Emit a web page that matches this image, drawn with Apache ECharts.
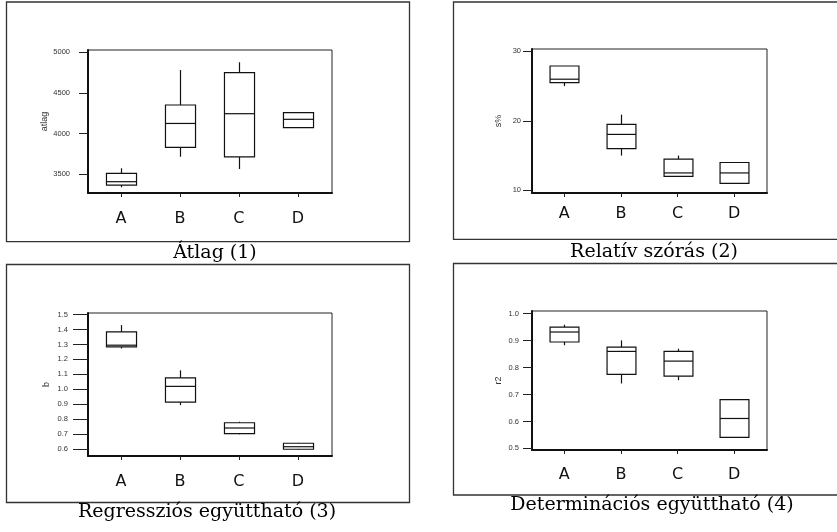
<!DOCTYPE html>
<html>
<head>
<meta charset="utf-8">
<title>Boxplots</title>
<script src="https://cdn.jsdelivr.net/npm/echarts@6/dist/echarts.min.js"></script>
<style>
  html, body { margin: 0; padding: 0; background: #ffffff; }
  #chart { width: 837px; height: 532px; }
</style>
</head>
<body>
<div id="chart"></div>
<script>
// Groups shown on every panel
const categories = ['A', 'B', 'C', 'D'];

// Box summaries per group: [low whisker, Q1, median, Q3, high whisker]
const atlagValues = [
  [3340, 3368, 3409, 3512, 3574],
  [3716, 3832, 4125, 4352, 4782],
  [3565, 3713, 4245, 4749, 4877],
  [4073, 4073, 4176, 4257, 4262]
];
const szorasValues = [
  [25.0, 25.5, 26.0, 27.9, 27.9],
  [15.0, 16.0, 18.05, 19.5, 20.9],
  [12.0, 12.0, 12.5, 14.5, 15.0],
  [11.0, 11.0, 12.5, 14.0, 14.0]
];
const regresszioValues = [
  [1.273, 1.284, 1.295, 1.384, 1.429],
  [0.895, 0.915, 1.02, 1.077, 1.127],
  [0.70, 0.704, 0.742, 0.777, 0.784],
  [0.595, 0.60, 0.617, 0.64, 0.643]
];
const determinacioValues = [
  [0.883, 0.895, 0.932, 0.950, 0.959],
  [0.741, 0.775, 0.860, 0.876, 0.901],
  [0.753, 0.768, 0.824, 0.860, 0.870],
  [0.541, 0.541, 0.611, 0.681, 0.681]
];

// Y tick labels per panel
const atlagTicks = [3500, 4000, 4500, 5000];
const szorasTicks = [10, 20, 30];
const regresszioTicks = [0.6, 0.7, 0.8, 0.9, 1.0, 1.1, 1.2, 1.3, 1.4, 1.5];
const determinacioTicks = [0.5, 0.6, 0.7, 0.8, 0.9, 1.0];

// Axis names and panel captions
const axisNames = ['atlag', 's%', 'b', 'r2'];
const captions = ['Átlag (1)', 'Relatív szórás (2)', 'Regressziós együttható (3)', 'Determinációs együttható (4)'];

const catPositions = categories.map((c, i) => i + 1);

function toSeriesData(values) {
  return values.map((v, i) => [i + 1].concat(v));
}

function renderBox(params, api) {
  const x = api.value(0);
  const lo = api.coord([x, api.value(1)]);
  const q1 = api.coord([x, api.value(2)]);
  const med = api.coord([x, api.value(3)]);
  const q3 = api.coord([x, api.value(4)]);
  const hi = api.coord([x, api.value(5)]);
  const half = api.size([0.51, 0])[0] / 2;
  const cx = Math.round(q1[0]) + 0.5;
  const stroke = { stroke: '#111', lineWidth: 1.2, fill: null };
  return {
    type: 'group',
    children: [
      { type: 'line', shape: { x1: cx, y1: hi[1], x2: cx, y2: q3[1] }, style: stroke },
      { type: 'line', shape: { x1: cx, y1: q1[1], x2: cx, y2: lo[1] }, style: stroke },
      { type: 'rect', shape: { x: cx - half, y: q3[1], width: half * 2, height: q1[1] - q3[1] },
        style: { stroke: '#111', lineWidth: 1.2, fill: '#fff' } },
      { type: 'line', shape: { x1: cx - half, y1: med[1], x2: cx + half, y2: med[1] }, style: stroke }
    ]
  };
}

// Panel layout: plot rectangles and axis settings
const panels = [
  { grid: { left: 88, top: 50, width: 244, height: 143 }, xMin: 0.44, xMax: 4.58,
    yMin: 3270, yMax: 5028, ticks: atlagTicks, dec: 0, tickLen: 9, labelMargin: 18,
    nameGap: 37, catMargin: 18, values: atlagValues },
  { grid: { left: 532, top: 49, width: 235, height: 144 }, xMin: 0.43, xMax: 4.58,
    yMin: 9.61, yMax: 30.35, ticks: szorasTicks, dec: 0, tickLen: 9, labelMargin: 11,
    nameGap: 29, catMargin: 13, values: szorasValues },
  { grid: { left: 88, top: 313, width: 244, height: 143 }, xMin: 0.44, xMax: 4.58,
    yMin: 0.555, yMax: 1.51, ticks: regresszioTicks, dec: 1, tickLen: 15, labelMargin: 20,
    nameGap: 37, catMargin: 18, values: regresszioValues },
  { grid: { left: 532, top: 311, width: 235, height: 139 }, xMin: 0.43, xMax: 4.58,
    yMin: 0.494, yMax: 1.01, ticks: determinacioTicks, dec: 1, tickLen: 9, labelMargin: 13,
    nameGap: 29, catMargin: 17, values: determinacioValues }
];

const grids = [], xAxes = [], yAxes = [], series = [];
panels.forEach((p, i) => {
  grids.push(Object.assign({ show: true, borderColor: '#222', borderWidth: 1, backgroundColor: 'transparent' }, p.grid));
  xAxes.push({
    gridIndex: i, type: 'value', min: p.xMin, max: p.xMax,
    splitLine: { show: false },
    axisLine: { show: true, onZero: false, lineStyle: { color: '#111', width: 2 } },
    axisTick: { show: true, customValues: catPositions, length: 4, lineStyle: { color: '#222', width: 1 } },
    axisLabel: {
      customValues: catPositions, margin: p.catMargin,
      formatter: v => categories[Math.round(v) - 1],
      fontFamily: 'DejaVu Sans', fontSize: 16, color: '#111'
    }
  });
  yAxes.push({
    gridIndex: i, type: 'value', min: p.yMin, max: p.yMax,
    name: axisNames[i], nameLocation: 'middle', nameGap: p.nameGap, nameRotate: 90,
    nameTextStyle: { fontFamily: 'Liberation Sans', fontSize: 9, color: '#333' },
    splitLine: { show: false },
    axisLine: { show: true, onZero: false, lineStyle: { color: '#111', width: 2 } },
    axisTick: { show: true, customValues: p.ticks, length: p.tickLen, lineStyle: { color: '#222', width: 1 } },
    axisLabel: {
      customValues: p.ticks, margin: p.labelMargin,
      formatter: v => Number(v).toFixed(p.dec),
      fontFamily: 'Liberation Sans', fontSize: 7.5, color: '#333'
    }
  });
  series.push({
    type: 'custom', xAxisIndex: i, yAxisIndex: i,
    renderItem: renderBox, data: toSeriesData(p.values),
    encode: { x: 0, y: [1, 2, 3, 4, 5] }, silent: true, clip: false
  });
});

// Panel frames and captions
const frames = [
  { x: 6.5, y: 2, width: 403, height: 239.7 },
  { x: 453.5, y: 2, width: 390, height: 237.3 },
  { x: 6.5, y: 264.5, width: 403, height: 238 },
  { x: 453.5, y: 263.5, width: 390, height: 231.5 }
];
const captionPos = [[215, 253], [654, 252], [207, 512], [652, 505]];

const graphics = [];
frames.forEach(f => {
  graphics.push({ type: 'rect', shape: f, style: { fill: null, stroke: '#333', lineWidth: 1.3 }, silent: true, z: 10 });
});
captions.forEach((t, i) => {
  graphics.push({
    type: 'text', x: captionPos[i][0], y: captionPos[i][1], silent: true, z: 10,
    style: { text: t, align: 'center', verticalAlign: 'middle', fontFamily: 'DejaVu Serif', fontSize: 19, fill: '#000' }
  });
});

const chart = echarts.init(document.getElementById('chart'), null, { renderer: 'canvas' });
chart.setOption({
  animation: false,
  backgroundColor: '#ffffff',
  grid: grids,
  xAxis: xAxes,
  yAxis: yAxes,
  series: series,
  graphic: graphics
});
</script>
</body>
</html>
